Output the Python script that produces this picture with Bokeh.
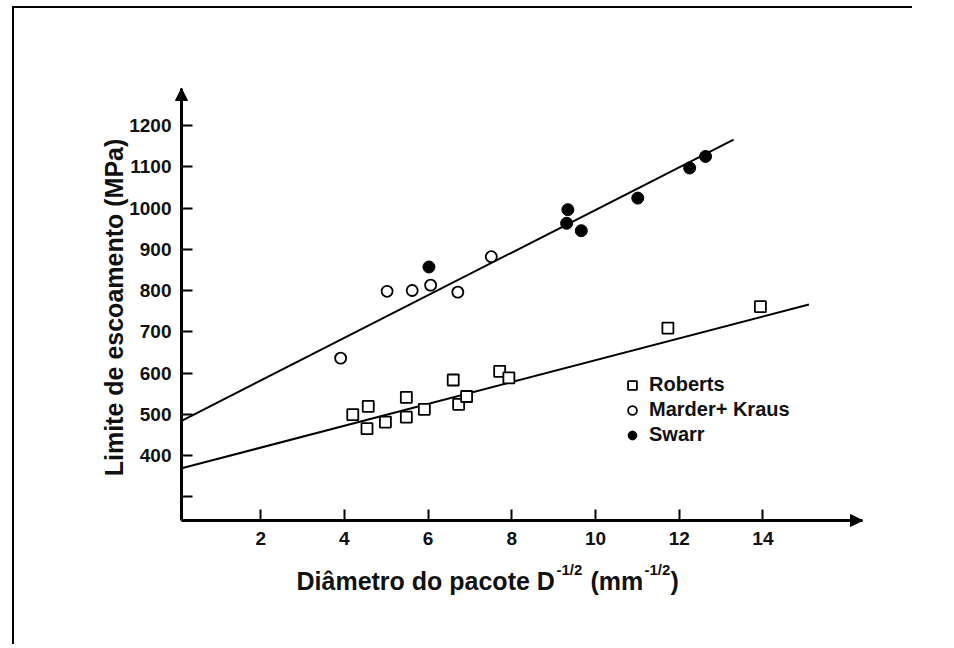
from math import pi
from bokeh.plotting import figure
from bokeh.models import Range1d, FixedTicker, Label, Arrow, NormalHead, Legend, LegendItem
from bokeh.embed import file_html
from bokeh.resources import INLINE

# ---------------- data ----------------
roberts_x = [4.20, 4.57, 4.54, 4.98, 5.48, 5.48, 5.91, 6.60, 6.73, 6.92, 7.71, 7.93, 11.73, 13.94]
roberts_y = [499, 519, 465, 481, 541, 493, 512, 583, 524, 543, 604, 588, 709, 761]

mk_x = [3.91, 5.02, 5.62, 6.06, 6.71, 7.51]
mk_y = [636, 798, 800, 813, 796, 882]

swarr_x = [6.02, 9.31, 9.34, 9.66, 11.01, 12.25, 12.63]
swarr_y = [857, 963, 996, 945, 1024, 1097, 1125]

upper_fit_x = [0.11, 13.3]
upper_fit_y = [484, 1166]
lower_fit_x = [0.11, 15.1]
lower_fit_y = [369, 766]

x_ticks = [2, 4, 6, 8, 10, 12, 14]
y_ticks = [300, 400, 500, 600, 700, 800, 900, 1000, 1100, 1200]
y_tick_labels = {300: ""}

series_names = ["Roberts", "Marder+ Kraus", "Swarr"]
x_label_main = "Diâmetro do pacote D"
x_label_sup = "-1/2"
x_label_unit = "(mm"
x_label_close = ")"
y_label = "Limite de escoamento (MPa)"

# ---------------- layout ----------------
W, H = 900, 638
OX, OY = 14, 8                       # page position of the canvas
MB_L, MB_B, MB_R = 60, 48, 0         # space left of / below / right of the frame
# linear scale of the chart in page pixels
PX0, PXU = 176.5, 41.85              # page x of value 0, pixels per unit
PY1200, PYU = 125.0, 0.4125          # page y of 1200 MPa, pixels per MPa


def X(px):
    return (px - PX0) / PXU


def Y(py):
    return 1200 - (py - PY1200) / PYU


XS, XE = X(OX + MB_L), X(OX + W - MB_R)
YS, YE = Y(OY + H - MB_B), Y(OY)
AX0, AXE = X(181), X(862)            # x-axis extent (origin to arrow tip)
AY0, AYE = Y(520), Y(88)             # y-axis extent

FONT = "Liberation Sans"
INK = "#111111"

p = figure(width=W, height=H, output_backend="svg", toolbar_location=None,
           x_range=Range1d(XS, XE), y_range=Range1d(YS, YE),
           min_border_left=MB_L, min_border_top=0,
           min_border_right=MB_R, min_border_bottom=MB_B)
p.styles = {"border-top": "2px solid black", "border-left": "2px solid black",
            "margin-left": "12px", "margin-top": "6px"}
p.background_fill_color = "white"
p.border_fill_color = "white"
p.outline_line_color = None
p.grid.visible = False

for ax in (p.xaxis[0], p.yaxis[0]):
    ax.axis_line_width = 3
    ax.axis_line_color = "black"
    ax.major_tick_in = 11
    ax.major_tick_out = 0
    ax.major_tick_line_width = 2
    ax.major_tick_line_color = "black"
    ax.minor_tick_line_color = None
    ax.major_label_text_font = FONT
    ax.major_label_text_font_style = "bold"
    ax.major_label_text_font_size = "19px"
    ax.major_label_text_color = INK

p.xaxis.fixed_location = AY0
p.xaxis.bounds = (AX0, AXE)
p.yaxis.fixed_location = AX0
p.yaxis.bounds = (AY0, AYE)
p.xaxis.ticker = FixedTicker(ticks=x_ticks)
p.yaxis.ticker = FixedTicker(ticks=y_ticks)
p.yaxis.major_label_overrides = y_tick_labels
p.xaxis.major_label_standoff = 11
p.yaxis.major_label_standoff = 10

# axis arrows
p.add_layout(Arrow(end=NormalHead(size=12, fill_color="black", line_color="black"),
                   x_start=AX0, y_start=1200, x_end=AX0, y_end=AYE,
                   line_width=3, line_color="black"))
p.add_layout(Arrow(end=NormalHead(size=12, fill_color="black", line_color="black"),
                   x_start=14, y_start=AY0, x_end=AXE, y_end=AY0,
                   line_width=3, line_color="black"))

# fit lines
p.line(upper_fit_x, upper_fit_y, line_width=2, line_color="black")
p.line(lower_fit_x, lower_fit_y, line_width=2, line_color="black")

r1 = p.scatter(roberts_x, roberts_y, marker="square", size=11, fill_color="white",
               line_color="black", line_width=1.8)
r2 = p.scatter(mk_x, mk_y, marker="circle", size=11, fill_color="white",
               line_color="black", line_width=1.8)
r3 = p.scatter(swarr_x, swarr_y, marker="circle", size=12, fill_color="black",
               line_color="black", line_width=1)

frame_bottom_page = OY + H - MB_B
legend = Legend(items=[LegendItem(label=series_names[0], renderers=[r1]),
                       LegendItem(label=series_names[1], renderers=[r2]),
                       LegendItem(label=series_names[2], renderers=[r3])],
                location=(621 - (OX + MB_L), frame_bottom_page - 446),
                border_line_color=None, background_fill_alpha=0,
                padding=0, margin=0, spacing=2, glyph_width=22, glyph_height=22,
                label_height=22, label_standoff=6,
                label_text_font=FONT, label_text_font_style="bold",
                label_text_font_size="20px", label_text_color=INK)
p.add_layout(legend)

# axis titles
p.add_layout(Label(x=X(113), y=Y(307), text=y_label, angle=pi / 2,
                   text_align="center", text_baseline="middle",
                   text_font=FONT, text_font_style="bold", text_font_size="25px",
                   text_color=INK))

common = dict(text_font=FONT, text_font_style="bold", text_color=INK,
              text_baseline="alphabetic", text_align="left")
p.add_layout(Label(x=X(296), y=Y(580), text=x_label_main, text_font_size="25px", **common))
p.add_layout(Label(x=X(556), y=Y(569), text=x_label_sup, text_font_size="15px", **common))
p.add_layout(Label(x=X(590), y=Y(580), text=x_label_unit, text_font_size="25px", **common))
p.add_layout(Label(x=X(644), y=Y(569), text=x_label_sup, text_font_size="15px", **common))
p.add_layout(Label(x=X(670), y=Y(580), text=x_label_close, text_font_size="25px", **common))

open("out.html", "w").write(file_html(p, INLINE))
